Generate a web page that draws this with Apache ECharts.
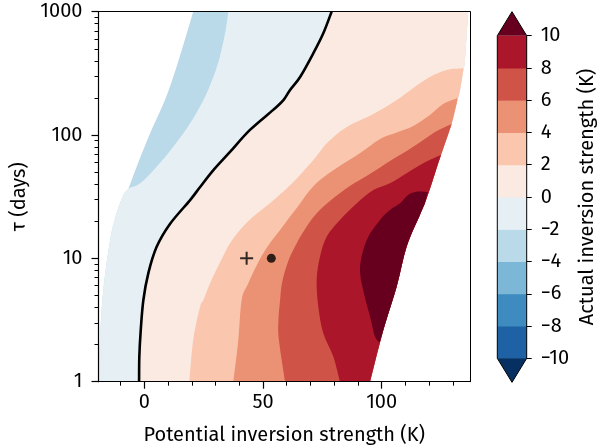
<!DOCTYPE html>
<html>
<head>
<meta charset="utf-8">
<script src="https://cdn.jsdelivr.net/npm/echarts@6/dist/echarts.min.js"></script>
<style>
  html, body { margin: 0; padding: 0; background: #fff; }
  #chart { width: 601px; height: 445px; }
</style>
</head>
<body>
<div id="chart"></div>
<script>
// Contour levels of the actual inversion strength (K) and the band colours between them
const levels = [-10, -8, -6, -4, -2, 0, 2, 4, 6, 8, 10];
const bandColors = ['#1e61a5', '#3d8bbf', '#7cb7d7', '#bad9e9', '#e6eff4',
                    '#faeae1', '#fac7ae', '#ec9274', '#cf5347', '#ab162a'];
const underColor = '#053061';
const overColor = '#67001f';

// Edges of the valid region: [potential inversion strength (K), tau (days)]
const leftEdge = [[20.6, 1000], [17.9, 668], [13.6, 358], [8.7, 192], [2.4, 103], [-3.2, 55.4],
  [-6.7, 37], [-8.8, 32.7], [-11.9, 22.5], [-14.4, 14.1], [-17.3, 5.54], [-18.7, 2.18], [-20.5, 1]];
const rightEdge = [[136.4, 1000], [135.1, 406], [134.4, 337], [133.0, 232], [131.6, 181], [129.5, 124.5],
  [126.7, 85.7], [123.8, 59.0], [121.1, 40.6], [118.2, 28.0], [116.1, 22.5], [110.5, 12.44],
  [106.3, 5.89], [100.7, 2.63], [95.1, 1]];

// Contour lines
const contourM2 = [[35.4, 1000], [34.0, 668], [31.8, 432], [29.1, 297], [24.9, 192], [19.3, 124.5],
  [12.2, 80.4], [5.2, 55.4], [-1.8, 40.6], [-6.7, 37]];
const contour0 = [[-2.2, 1], [-2.1, 1.6], [-1.5, 2.63], [-0.4, 4.6], [1.7, 7.6], [5.2, 12.4], [10.8, 19],
  [19.3, 29.7], [23.5, 37.9], [29.1, 52], [36.1, 73], [44.5, 110], [54.3, 160], [58.6, 192],
  [61.4, 232], [65.7, 297], [71.2, 460], [75.4, 668], [78.9, 1000]];
const contour2 = [[19.0, 1], [20.6, 2.18], [23.5, 4.06], [24.9, 4.6], [27.7, 6.28], [32.6, 9.88],
  [36.1, 13.25], [40.3, 17.0], [45.9, 21.8], [52.9, 28.0], [59.3, 35.8], [64.9, 45.9], [71.9, 65.2],
  [77.4, 87.8], [85.3, 116.2], [96.5, 148], [106.3, 192], [113.3, 240.6], [120.3, 295.5],
  [127.4, 337], [134.4, 347.6]];
const contour4 = [[37.5, 1], [39.6, 2.18], [41.0, 4.6], [43.8, 6.28], [48.7, 9.88], [52.9, 13.25],
  [57.2, 17.0], [61.4, 21.8], [65.7, 28.0], [69.8, 35.8], [74.0, 43.2], [81.0, 54.1], [90.8, 71.1],
  [99.3, 92.9], [106.3, 104.9], [113.3, 118.4], [120.3, 145.4], [125.9, 178.5], [130.9, 196],
  [131.9, 200]];
const contour6 = [[59.3, 1], [56.7, 2.18], [56.5, 3.17], [57.2, 4.6], [58.0, 6.32], [60.5, 9.35],
  [64.2, 13.25], [68.4, 18.1], [72.6, 23.2], [78.2, 29.2], [86.6, 38.6], [95.0, 48.3], [103.5, 61.6],
  [110.5, 74.2], [117.5, 91.2], [123.2, 107.8], [126.7, 116.2], [129.5, 122.9]];
const contour8 = [[82.4, 1], [79.6, 1.6], [75.4, 2.47], [73.3, 4.06], [72.6, 6.68], [74.0, 10.3],
  [76.8, 15.0], [82.4, 20.5], [89.5, 28.0], [96.5, 35.8], [103.5, 40.6], [110.5, 49.0], [117.5, 59.0],
  [123.2, 66.7], [125.0, 68.9]];
const contour10 = [[119.5, 34.5], [114.7, 34.7], [111.1, 32.7], [107.7, 28.0], [103.5, 24.7],
  [99.3, 20.5], [93.7, 14.1], [90.9, 8.56], [92.2, 5.54], [95.1, 3.37], [97.2, 2.32], [99.1, 2.07]];

// Highlighted cases at tau = 10 days
const markerPlus = [43.1, 10];
const markerDot = [53.5, 10];

// Axis ticks
const xMajorTicks = [0, 50, 100];
const xMinorTicks = [-10, 10, 20, 30, 40, 60, 70, 80, 90, 110, 120, 130];
const yMajorTicks = [1, 10, 100, 1000];
const yMinorTicks = [2, 3, 4, 5, 6, 7, 8, 9, 20, 30, 40, 50, 60, 70, 80, 90,
                     200, 300, 400, 500, 600, 700, 800, 900];

const FONT = "'Fira Sans', 'Noto Sans', sans-serif";
const FS = 20;

// Filled regions as lists of boundary pieces, painted from the lowest band upward
const lastTau = (c) => c[c.length - 1][1];
const edgeBelow = (tau) => rightEdge.filter(p => p[1] <= tau);
const layers = [
  { color: bandColors[3], pieces: [leftEdge, rightEdge.slice().reverse()] },
  { color: bandColors[4], pieces: [contourM2, leftEdge.filter(p => p[1] <= lastTau(contourM2)),
                                   rightEdge.slice().reverse()] },
  { color: bandColors[5], pieces: [contour0, edgeBelow(1000)] },
  { color: bandColors[6], pieces: [contour2, edgeBelow(lastTau(contour2) - 1e-6)] },
  { color: bandColors[7], pieces: [contour4, edgeBelow(lastTau(contour4) - 1e-6)] },
  { color: bandColors[8], pieces: [contour6, edgeBelow(lastTau(contour6) - 1e-6)] },
  { color: bandColors[9], pieces: [contour8, edgeBelow(lastTau(contour8) - 1e-6)] },
  { color: overColor, pieces: [contour10, rightEdge
      .filter(p => p[1] > lastTau(contour10) && p[1] < contour10[0][1]).reverse()] }
];

// Catmull-Rom style cubic segments through pixel points
function curveThrough(pts) {
  let d = '';
  for (let i = 0; i < pts.length - 1; i++) {
    const p0 = pts[Math.max(i - 1, 0)], p1 = pts[i], p2 = pts[i + 1], p3 = pts[Math.min(i + 2, pts.length - 1)];
    const k = 1 / 6;
    const c1x = p1[0] + (p2[0] - p0[0]) * k, c1y = p1[1] + (p2[1] - p0[1]) * k;
    const c2x = p2[0] - (p3[0] - p1[0]) * k, c2y = p2[1] - (p3[1] - p1[1]) * k;
    d += 'C' + c1x + ',' + c1y + ' ' + c2x + ',' + c2y + ' ' + p2[0] + ',' + p2[1];
  }
  return d;
}

const plusPath = 'path://M0,5.5H13V7.5H0Z M5.5,0H7.5V13H5.5Z';
const extendLen = 1.49; // triangle length in colourbar units

const chart = echarts.init(document.getElementById('chart'), null, { renderer: 'canvas' });

const textStyle = { fontSize: FS, color: '#000', fontFamily: FONT };

chart.setOption({
  animation: false,
  backgroundColor: '#fff',
  textStyle: { fontFamily: FONT },
  grid: [
    { left: 98.5, right: 131, top: 11.7, bottom: 63.3, outerBoundsMode: 'none', containLabel: false },
    { left: 497.3, top: 35.7, width: 29.4, height: 322.6, outerBoundsMode: 'none', containLabel: false }
  ],
  xAxis: [
    {
      gridIndex: 0, type: 'value', min: -19.3, max: 137.2, position: 'bottom', z: 10,
      axisLine: { show: true, onZero: false, lineStyle: { color: '#000', width: 1.2 } },
      axisTick: { show: true, customValues: xMajorTicks, length: 7, lineStyle: { color: '#000', width: 1.2 } },
      axisLabel: Object.assign({ customValues: xMajorTicks, margin: 11 }, textStyle),
      splitLine: { show: false },
      name: 'Potential inversion strength (K)', nameLocation: 'middle', nameGap: 44,
      nameTextStyle: textStyle
    },
    {
      gridIndex: 0, type: 'value', min: -19.3, max: 137.2, position: 'bottom', z: 10,
      axisLine: { show: false, onZero: false },
      axisTick: { show: true, customValues: xMinorTicks, length: 4, lineStyle: { color: '#000', width: 1 } },
      axisLabel: { show: false }, splitLine: { show: false }
    },
    {
      gridIndex: 0, type: 'value', min: -19.3, max: 137.2, position: 'top', z: 10,
      axisLine: { show: true, onZero: false, lineStyle: { color: '#000', width: 1 } },
      axisTick: { show: false }, axisLabel: { show: false }, splitLine: { show: false }
    },
    { gridIndex: 1, type: 'value', min: 0, max: 1, show: false }
  ],
  yAxis: [
    {
      gridIndex: 0, type: 'log', logBase: 10, min: 1, max: 1000, position: 'left', z: 10,
      axisLine: { show: true, onZero: false, lineStyle: { color: '#000', width: 1.2 } },
      axisTick: { show: true, customValues: yMajorTicks, length: 7, lineStyle: { color: '#000', width: 1.2 } },
      axisLabel: Object.assign({ customValues: yMajorTicks, margin: 16, formatter: v => String(v) }, textStyle),
      splitLine: { show: false },
      name: 'τ (days)', nameLocation: 'middle', nameGap: 61, nameRotate: 90,
      nameTextStyle: textStyle
    },
    {
      gridIndex: 0, type: 'log', logBase: 10, min: 1, max: 1000, position: 'left', z: 10,
      axisLine: { show: false, onZero: false },
      axisTick: { show: true, customValues: yMinorTicks, length: 4, lineStyle: { color: '#000', width: 1 } },
      axisLabel: { show: false }, splitLine: { show: false }
    },
    {
      gridIndex: 0, type: 'log', logBase: 10, min: 1, max: 1000, position: 'right', z: 10,
      axisLine: { show: true, onZero: false, lineStyle: { color: '#000', width: 1 } },
      axisTick: { show: false }, axisLabel: { show: false }, splitLine: { show: false }
    },
    {
      gridIndex: 1, type: 'value', min: levels[0], max: levels[levels.length - 1], interval: 2,
      position: 'right', z: 10,
      axisLine: { show: false, onZero: false },
      axisTick: { show: true, length: 5, lineStyle: { color: '#000', width: 1 } },
      axisLabel: Object.assign({ margin: 14, formatter: v => String(v).replace('-', '\u2212') }, textStyle),
      splitLine: { show: false },
      name: 'Actual inversion strength (K)', nameLocation: 'middle', nameGap: 51, nameRotate: 90,
      nameTextStyle: textStyle
    }
  ],
  series: [
    {
      // filled contour bands and the zero contour line
      type: 'custom',
      xAxisIndex: 0, yAxisIndex: 0,
      clip: true,
      data: layers.map((l, i) => [i, 10]).concat([[layers.length, 10]]),
      renderItem: (params, api) => {
        const cs = params.coordSys;
        const rect = { x: cs.x, y: cs.y, width: cs.width, height: cs.height };
        const toPx = (arr) => echarts.graphic.clipPointsByRect(arr.map(p => api.coord(p)), rect);
        if (params.dataIndex === layers.length) {
          const px = toPx(contour0);
          return { type: 'path', shape: { pathData: 'M' + px[0][0] + ',' + px[0][1] + curveThrough(px) },
                   style: { fill: null, stroke: '#000', lineWidth: 2.6 } };
        }
        const layer = layers[params.dataIndex];
        let d = '';
        layer.pieces.forEach((piece, j) => {
          const px = toPx(piece);
          d += (j === 0 ? 'M' : 'L') + px[0][0] + ',' + px[0][1] + curveThrough(px);
        });
        d += 'Z';
        return { type: 'path', shape: { pathData: d }, style: { fill: layer.color, stroke: null } };
      },
      z: 1
    },
    {
      type: 'scatter',
      xAxisIndex: 0, yAxisIndex: 0,
      data: [
        { value: markerPlus, symbol: plusPath, symbolSize: 13 },
        { value: markerDot, symbol: 'circle', symbolSize: 9 }
      ],
      itemStyle: { color: '#000' },
      z: 4
    },
    {
      // colourbar: bands, extension triangles and outline
      type: 'custom',
      xAxisIndex: 3, yAxisIndex: 3,
      clip: false,
      data: bandColors.map((c, i) => [0.5, (levels[i] + levels[i + 1]) / 2]).concat([[0.5, -10], [0.5, 10], [0.5, 0]]),
      renderItem: (params, api) => {
        const i = params.dataIndex;
        const lo = levels[0], hi = levels[levels.length - 1];
        if (i < bandColors.length) {
          const a = api.coord([0, levels[i + 1]]);
          const b = api.coord([1, levels[i]]);
          return { type: 'rect', shape: { x: a[0], y: a[1], width: b[0] - a[0], height: b[1] - a[1] + 0.5 },
                   style: { fill: bandColors[i] } };
        }
        if (i === bandColors.length) {
          return { type: 'polygon', shape: { points: [api.coord([0, lo]), api.coord([1, lo]), api.coord([0.5, lo - extendLen])] },
                   style: { fill: underColor } };
        }
        if (i === bandColors.length + 1) {
          return { type: 'polygon', shape: { points: [api.coord([0, hi]), api.coord([1, hi]), api.coord([0.5, hi + extendLen])] },
                   style: { fill: overColor } };
        }
        return { type: 'polygon',
                 shape: { points: [api.coord([0, hi]), api.coord([0.5, hi + extendLen]), api.coord([1, hi]),
                                   api.coord([1, lo]), api.coord([0.5, lo - extendLen]), api.coord([0, lo])] },
                 style: { fill: null, stroke: '#000', lineWidth: 1 } };
      },
      z: 2
    }
  ]
});
</script>
</body>
</html>
